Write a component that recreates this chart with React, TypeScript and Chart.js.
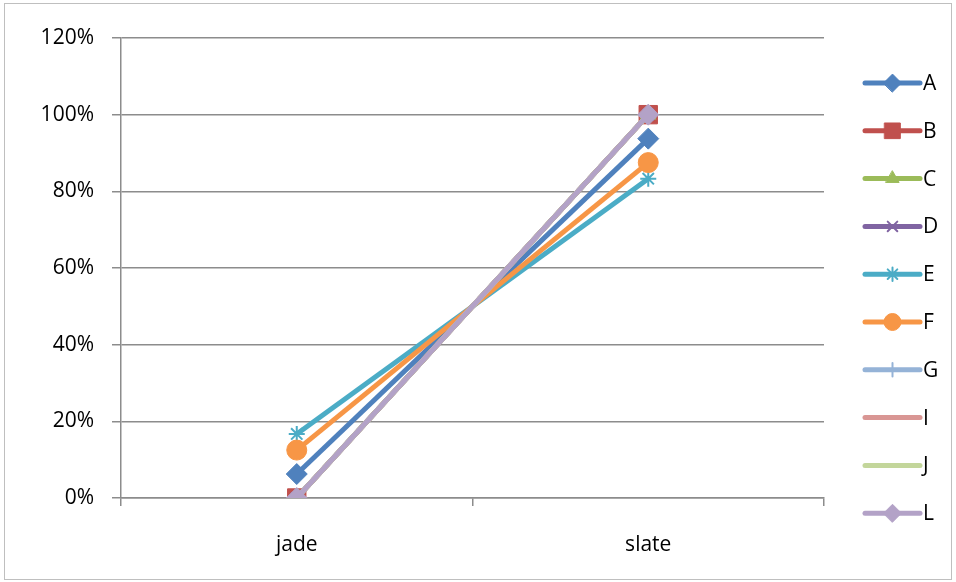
import React, { useEffect, useRef } from "react";
import { Chart, registerables } from "chart.js";
import { drawPoint } from "chart.js/helpers";

Chart.register(...registerables);

const categories = ["jade", "slate"];
const seriesNames = ["A", "B", "C", "D", "E", "F", "G", "I", "J", "L"];
const seriesA = [6.25, 93.75];
const seriesB = [0, 100];
const seriesC = [0, 100];
const seriesD = [0, 100];
const seriesE = [16.7, 83.3];
const seriesF = [12.5, 87.5];
const seriesG = [0, 100];
const seriesI = [0, 100];
const seriesJ = [0, 100];
const seriesL = [0, 100];
const seriesValues = [seriesA, seriesB, seriesC, seriesD, seriesE, seriesF, seriesG, seriesI, seriesJ, seriesL];
const yTicks = [0, 20, 40, 60, 80, 100, 120];

const colors = ["#4F81BD", "#C0504D", "#9BBB59", "#8064A2", "#4BACC6", "#F79646", "#95B3D7", "#D99694", "#C3D69B", "#B3A2C7"];
const pointStyles: any[] = ["rectRot", "rect", "triangle", "crossRot", "star", "circle", "cross", false, false, "rectRot"];
const pointRadii = [10.5, 13, 9, 8, 8, 10, 8, 0, 0, 10.5];
const pointBorderWidths = [1, 1, 1, 2, 2, 1, 2, 0, 0, 1];

const FONT = "'Open Sans', sans-serif";
const FONT_SIZE = 21;

const frameAndLegend = {
  id: "frameAndLegend",
  afterDraw(chart: any) {
    const ctx = chart.ctx;
    const area = chart.chartArea;
    ctx.save();
    ctx.strokeStyle = "#BFBFBF";
    ctx.lineWidth = 1;
    ctx.strokeRect(4.5, 3.5, chart.width - 9, chart.height - 6);
    const x0 = area.right + 41;
    const x1 = x0 + 55;
    const step = 47.8;
    const yStart = area.top + 45;
    chart.data.datasets.forEach((ds: any, i: number) => {
      const y = yStart + i * step;
      ctx.strokeStyle = ds.borderColor;
      ctx.lineWidth = 5;
      ctx.lineCap = "round";
      ctx.beginPath();
      ctx.moveTo(x0, y);
      ctx.lineTo(x1, y);
      ctx.stroke();
      if (ds.pointStyle) {
        ctx.fillStyle = ds.pointBackgroundColor;
        ctx.strokeStyle = ds.pointBorderColor;
        ctx.lineWidth = ds.pointBorderWidth;
        drawPoint(ctx, { pointStyle: ds.pointStyle, rotation: 0, radius: ds.pointRadius * 0.85, borderWidth: ds.pointBorderWidth } as any, (x0 + x1) / 2, y);
      }
      ctx.fillStyle = "#000";
      ctx.font = `${FONT_SIZE}px ${FONT}`;
      ctx.textBaseline = "middle";
      ctx.textAlign = "left";
      ctx.fillText(ds.label, x1 + 3, y + 1);
    });
    ctx.restore();
  },
};

export default function App() {
  const ref = useRef<HTMLCanvasElement>(null);
  useEffect(() => {
    if (!ref.current) return;
    const datasets = seriesNames.map((name, i) => ({
      label: name,
      data: seriesValues[i],
      borderColor: colors[i],
      backgroundColor: colors[i],
      borderWidth: 5,
      pointStyle: pointStyles[i],
      pointRadius: pointRadii[i],
      pointBackgroundColor: colors[i],
      pointBorderColor: colors[i],
      pointBorderWidth: pointBorderWidths[i],
      order: seriesNames.length - 1 - i,
      tension: 0,
    }));
    const chart = new Chart(ref.current, {
      type: "line",
      data: { labels: categories, datasets },
      options: {
        responsive: false,
        animation: false,
        layout: { padding: { left: 0, top: 38, right: 132, bottom: 0 } },
        plugins: { legend: { display: false }, tooltip: { enabled: false } },
        scales: {
          x: {
            offset: true,
            grid: { drawOnChartArea: false, offset: true, tickLength: 8, color: "#8C8C8C", lineWidth: 1.5 },
            border: { color: "#8C8C8C", width: 1.5 },
            ticks: { color: "#000", padding: 26, font: { family: FONT, size: FONT_SIZE } },
            afterFit: (s: any) => { s.height = 84; },
          },
          y: {
            min: 0,
            max: 120,
            afterBuildTicks: (s: any) => { s.ticks = yTicks.map((v) => ({ value: v })); },
            grid: { tickLength: 9, color: "#8C8C8C", lineWidth: 1.5 },
            border: { color: "#8C8C8C", width: 1.5 },
            ticks: { color: "#000", padding: 18, font: { family: FONT, size: FONT_SIZE }, callback: (v: any) => v + "%" },
            afterFit: (s: any) => { s.width = 121; },
          },
        },
      },
      plugins: [frameAndLegend],
    });
    return () => chart.destroy();
  }, []);
  return (
    <div style={{ position: "absolute", left: 0, top: 0, width: 956, height: 582, background: "#fff" }}>
      <canvas ref={ref} width={956} height={582} style={{ width: 956, height: 582 }} />
    </div>
  );
}
